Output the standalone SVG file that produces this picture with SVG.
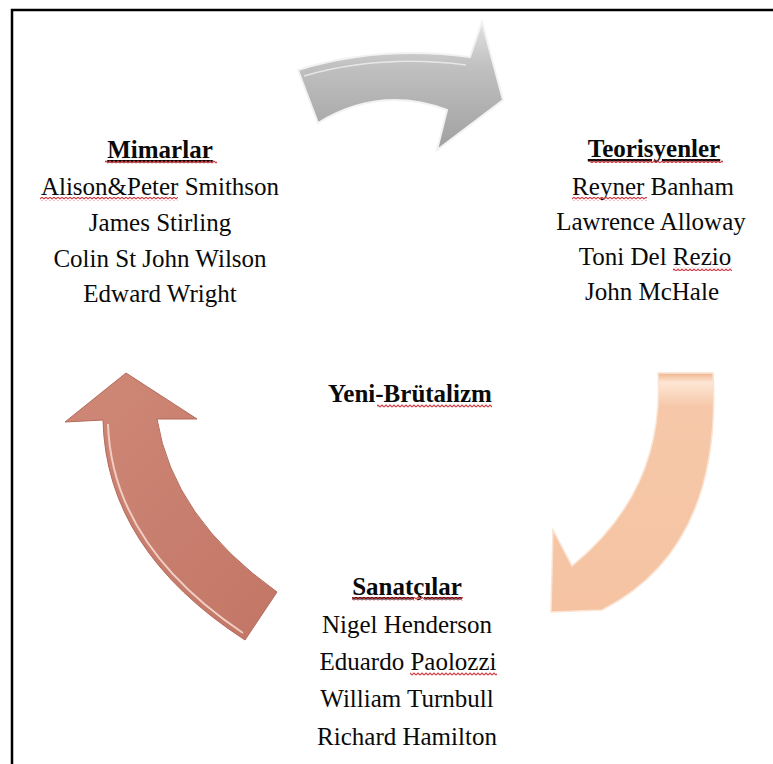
<svg xmlns="http://www.w3.org/2000/svg" width="773" height="764" viewBox="0 0 773 764">
<style>
  text { font-family: "Liberation Serif", "Times New Roman", serif; font-size: 25px; fill: #0a0a0a; text-anchor: middle; }
  .h { font-weight: bold; text-decoration: underline; }
  .b { font-weight: bold; }
  .sq { fill: url(#wave); }
  .frame { fill: none; stroke: #000; stroke-width: 2.5; }
</style>
<defs>
  <pattern id="wave" patternUnits="userSpaceOnUse" width="4" height="4">
    <path d="M0,3 L2,1 L4,3" fill="none" stroke="#d23c46" stroke-width="1.1"/>
  </pattern>
  <linearGradient id="gGray" x1="0" y1="0" x2="0" y2="1">
    <stop offset="0" stop-color="#e2e2e2"/>
    <stop offset="0.35" stop-color="#c0c0c0"/>
    <stop offset="1" stop-color="#a0a0a0"/>
  </linearGradient>
  <linearGradient id="gPeach" x1="0" y1="0" x2="0" y2="1">
    <stop offset="0" stop-color="#f0b48e"/>
    <stop offset="0.04" stop-color="#fde6d4"/>
    <stop offset="0.14" stop-color="#f6c8a9"/>
    <stop offset="1" stop-color="#f5c3a2"/>
  </linearGradient>
  <linearGradient id="gRose" x1="0" y1="0" x2="1" y2="1">
    <stop offset="0" stop-color="#cf8877"/>
    <stop offset="1" stop-color="#c27666"/>
  </linearGradient>
</defs>

<path class="frame" d="M773,10 L12,10 L12,764"/>

<g id="connectors">
  <g id="arrow-top">
    <path d="M298,70 Q380,45 470,57 L482,22 L503,100 L437,150 L447,110 Q380,85 318,123 Z" fill="url(#gGray)" stroke="#f2f2f2" stroke-width="2" stroke-linejoin="miter"/>
    <path d="M304,76 Q380,54 466,65" fill="none" stroke="#ffffff" stroke-width="1.5" opacity="0.6"/>
  </g>
  <g id="arrow-right">
    <path d="M658,373 L713,373 Q722.5,548.5 602,610 L551,612 L553,530 L572,566 Q665,490.5 658,373 Z" fill="url(#gPeach)" stroke="#fbe3d2" stroke-width="1.5"/>
  </g>
  <g id="arrow-left">
    <path d="M126,373 L197,419 L157,419 Q173,518 277,592 L245,640 Q106,550 103,420 L65,422 Z" fill="url(#gRose)" stroke="#b46a5b" stroke-width="1"/>
    <path d="M108,424 Q112,545 243,633" fill="none" stroke="#f1cdc4" stroke-width="2"/>
  </g>
</g>

<g id="node-mimarlar">
  <text x="160" y="158" class="h">Mimarlar</text>
  <text x="160" y="195">Alison&amp;Peter Smithson</text>
  <text x="160" y="231">James Stirling</text>
  <text x="160" y="267">Colin St John Wilson</text>
  <text x="160" y="302">Edward Wright</text>
  <rect class="sq" x="105" y="160" width="112" height="4"/>
  <rect class="sq" x="40" y="197" width="138" height="4"/>
</g>

<g id="node-teorisyenler">
  <text x="654" y="157" class="h">Teorisyenler</text>
  <text x="653" y="195">Reyner Banham</text>
  <text x="651" y="230">Lawrence Alloway</text>
  <text x="655" y="265">Toni Del Rezio</text>
  <text x="652" y="300">John McHale</text>
  <rect class="sq" x="590" y="159" width="133" height="4"/>
  <rect class="sq" x="572" y="197" width="75" height="4"/>
  <rect class="sq" x="673" y="267" width="59" height="4"/>
</g>

<g id="node-center">
  <text x="410" y="402" class="b">Yeni-Brütalizm</text>
  <rect class="sq" x="377" y="404" width="115" height="4"/>
</g>

<g id="node-sanatcilar">
  <text x="407" y="595" class="h">Sanatçılar</text>
  <text x="407" y="633">Nigel Henderson</text>
  <text x="408" y="670">Eduardo Paolozzi</text>
  <text x="407" y="707">William Turnbull</text>
  <text x="407" y="745">Richard Hamilton</text>
  <rect class="sq" x="352" y="597" width="111" height="4"/>
  <rect class="sq" x="410" y="672" width="87" height="4"/>
</g>
</svg>
